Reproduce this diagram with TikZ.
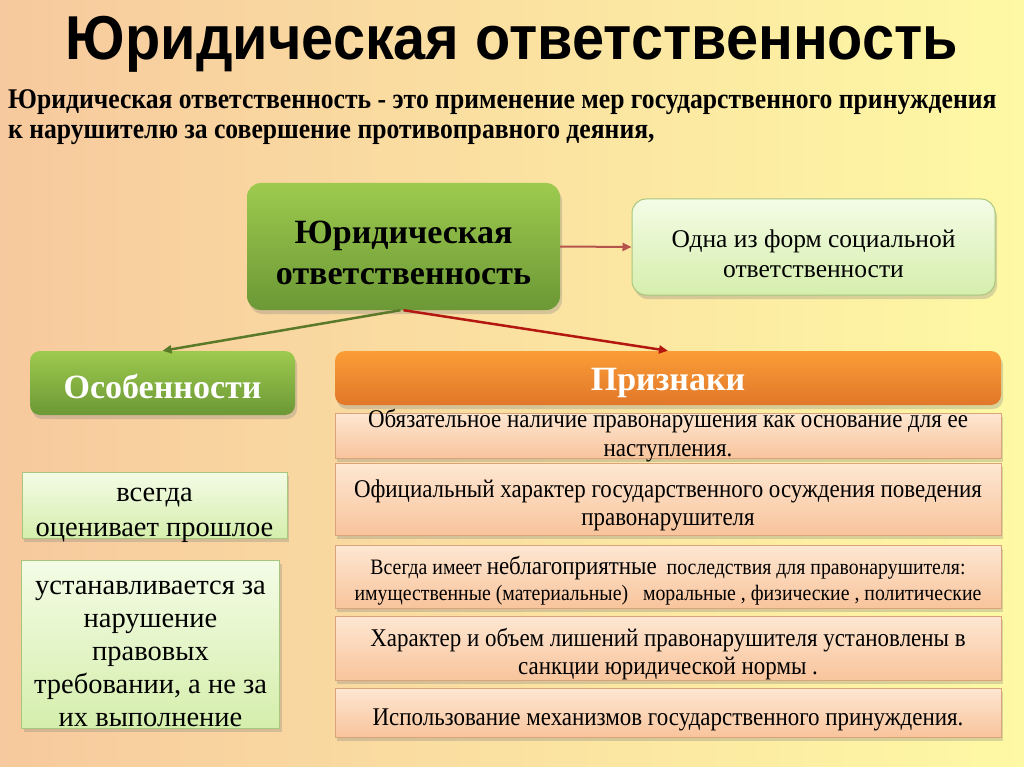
\documentclass[tikz,border=0pt]{standalone}
\usepackage{fontspec}
\setmainfont{Liberation Serif}
\newfontfamily\titlefont[FakeStretch=0.93]{Liberation Sans}
\newfontfamily\condfont[FakeStretch=0.9]{Liberation Serif}
\usetikzlibrary{arrows.meta,shadows}

% pushes the first line of a box a little down
\newcommand\up{\rule{0pt}{1.2em}}

\definecolor{bgleft}{HTML}{F7C99E}
\definecolor{bgright}{HTML}{FEF9A4}
\definecolor{grtop}{HTML}{9DCA4E}
\definecolor{grbot}{HTML}{6C9836}
\definecolor{lgtop}{HTML}{F4FCE6}
\definecolor{lgbot}{HTML}{D5EEAC}
\definecolor{lgline}{HTML}{A9C67E}
\definecolor{ortop}{HTML}{FB9D36}
\definecolor{orbot}{HTML}{E0772A}
\definecolor{pctop}{HTML}{FEE7D2}
\definecolor{pcbot}{HTML}{F8C49C}
\definecolor{pcline}{HTML}{D9A47C}
\definecolor{arbrown}{HTML}{B5544C}
\definecolor{argreen}{HTML}{5A7A2A}
\definecolor{arred}{HTML}{B3170F}

\tikzset{
  shadowed/.style={drop shadow={opacity=0.3,shadow xshift=2pt,shadow yshift=-4pt}},
  boxtext/.style={align=center,inner xsep=0pt,inner ysep=-12pt},
  greenbox/.style={shadowed,boxtext,rounded corners=14pt,top color=grtop,bottom color=grbot},
  lightbox/.style={shadowed,boxtext,draw=lgline,line width=1pt,top color=lgtop,bottom color=lgbot},
  orangebox/.style={shadowed,boxtext,rounded corners=10pt,top color=ortop,bottom color=orbot,text=white},
  peachbox/.style={shadowed,boxtext,draw=pcline,line width=1pt,top color=pctop,bottom color=pcbot,
    minimum width=666pt,font=\condfont\fontsize{25.5}{28.5}\selectfont},
  linkarrow/.style={line width=2.5pt,-{Triangle[length=9pt,width=8pt]}}
}

\begin{document}
\begin{tikzpicture}[x=1pt,y=-1pt]
\useasboundingbox (0,0) rectangle (1024,767);
\shade[left color=bgleft,right color=bgright] (0,0) rectangle (1024,767);

% title and definition
\node[font=\titlefont\bfseries\fontsize{62}{70}\selectfont] (title) at (512,44) {Юридическая ответственность};
\node[anchor=north west,align=left,inner sep=0pt,font=\condfont\bfseries\fontsize{28.5}{30}\selectfont] (defn) at (8,89)
  {Юридическая ответственность - это применение мер государственного принуждения\\
   к нарушителю за совершение противоправного деяния,};

% top row
\node[greenbox,minimum width=313pt,minimum height=127pt,font=\rmfamily\bfseries\fontsize{34}{41}\selectfont] (jur) at (403.5,246.5)
  {\rule{0pt}{1.02em}Юридическая\\ ответственность};
\node[lightbox,rounded corners=14pt,minimum width=363pt,minimum height=96pt,font=\rmfamily\fontsize{25.5}{30}\selectfont] (social) at (813.5,247)
  {\up Одна из форм социальной\\ ответственности};

% headers
\node[greenbox,rounded corners=10pt,minimum width=265pt,minimum height=64pt,text=white,font=\rmfamily\bfseries\fontsize{34}{36}\selectfont] (osob) at (162.5,383)
  {\rule{0pt}{0.95em}Особенности};
\node[orangebox,minimum width=666pt,minimum height=54pt,font=\rmfamily\bfseries\fontsize{34}{36}\selectfont] (prizn) at (668,378)
  {\rule{0pt}{0.95em}Признаки};

% left column
\node[lightbox,minimum width=265pt,minimum height=66pt,font=\rmfamily\fontsize{28.5}{35}\selectfont] (always) at (154.5,505)
  {\up всегда\\ оценивает прошлое};
\node[lightbox,minimum width=258pt,minimum height=168pt,font=\rmfamily\fontsize{28.5}{33}\selectfont] (violation) at (150.5,644)
  {\up устанавливается за\\ нарушение\\ правовых\\ требовании, а не за\\ их выполнение};

% right column
\node[peachbox,minimum height=45pt] (sign1) at (668,435.5)
  {Обязательное наличие правонарушения как основание для ее\\ наступления.};
\node[peachbox,minimum height=72pt] (sign2) at (668,499)
  {\up Официальный характер государственного осуждения поведения\\ правонарушителя};
\node[peachbox,minimum height=63pt,font=\condfont\fontsize{22}{26}\selectfont] (sign3) at (668,576.5)
  {\up Всегда имеет {\fontsize{25.5}{26}\selectfont неблагоприятные}\ \ последствия для правонарушителя:\\
   имущественные (материальные)\ \ \ моральные , физические , политические};
\node[peachbox,minimum height=64pt] (sign4) at (668,648)
  {\up Характер и объем лишений правонарушителя установлены в\\ санкции юридической нормы .};
\node[peachbox,minimum height=49pt] (sign5) at (668,712.5)
  {\up Использование механизмов государственного принуждения.};

% connectors
\draw[linkarrow,arbrown,line width=2pt] (jur.east) -- (social.west);
\draw[linkarrow,argreen] ([xshift=-3pt]jur.south) -- (osob.north);
\draw[linkarrow,arred] (jur.south) -- (prizn.north);

\end{tikzpicture}
\end{document}
